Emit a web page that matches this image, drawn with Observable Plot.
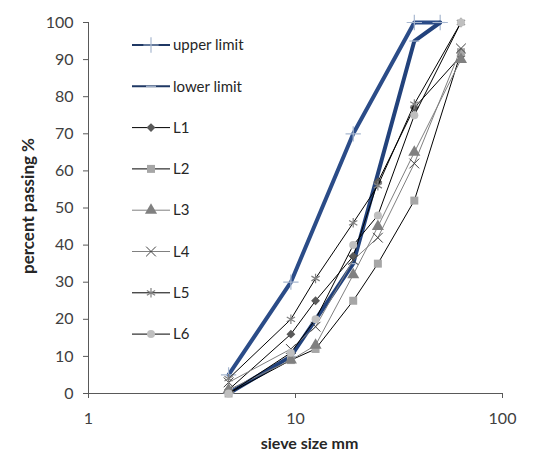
<!DOCTYPE html>
<html><head><meta charset="utf-8">
<script src="https://cdn.jsdelivr.net/npm/d3@7"></script>
<script src="https://cdn.jsdelivr.net/npm/@observablehq/plot@0.6"></script>
<style>
body{margin:0;background:#fff;}
#chart{position:relative;width:544px;height:465px;}
</style>
</head><body><div id="chart"></div>
<script>
// ---- data ----
const limitSieves = [4.75, 9.5, 19, 37.5, 50];
const upperLimit  = [5, 30, 70, 100, 100];
const lowerLimit  = [0, 10, 35, 95, 100];

const sieves = [4.75, 9.5, 12.5, 19, 25, 37.5, 63];
const L1 = [1, 16, 25, 37, 57, 77, 91];
const L2 = [0, 9, 12, 25, 35, 52, 92];
const L3 = [1, 9, 13, 32, 45, 65, 90];
const L4 = [3, 12, 18, 36, 42, 62, 93];
const L5 = [4, 20, 31, 46, 56, 78, 100];
const L6 = [0, 11, 20, 40, 48, 75, 100];

const seriesNames = ["upper limit", "lower limit", "L1", "L2", "L3", "L4", "L5", "L6"];
const xTicks = [1, 10, 100];
const yTicks = [0, 10, 20, 30, 40, 50, 60, 70, 80, 90, 100];
const xLabel = "sieve size mm";
const yLabel = "percent passing %";

// ---- styles ----
const dash = {draw(ctx, size){ const r = Math.sqrt(size / Math.PI); ctx.moveTo(-r, 0); ctx.lineTo(r, 0); }};
const styles = {
  "upper limit": {stroke:"#2B4C88", sw:4, symbol:d3.symbolPlus, r:5, fill:"none", mstroke:"#A8B8D0", msw:1.2},
  "lower limit": {stroke:"#22427C", sw:4, symbol:dash, r:5, fill:"none", mstroke:"#A8B8D0", msw:1.2},
  "L1": {stroke:"#000", sw:1, symbol:d3.symbolDiamond2, r:4, fill:"#595959", mstroke:"none", msw:0},
  "L2": {stroke:"#000", sw:1, symbol:d3.symbolSquare, r:4.5, fill:"#A6A6A6", mstroke:"none", msw:0},
  "L3": {stroke:"#808080", sw:1, symbol:d3.symbolTriangle, r:4.5, fill:"#808080", mstroke:"none", msw:0},
  "L4": {stroke:"#808080", sw:1, symbol:d3.symbolTimes, r:4.5, fill:"none", mstroke:"#404040", msw:1},
  "L5": {stroke:"#000", sw:1, symbol:d3.symbolAsterisk, r:4.5, fill:"none", mstroke:"#808080", msw:1.2},
  "L6": {stroke:"#000", sw:1, symbol:d3.symbolCircle, r:4, fill:"#BFBFBF", mstroke:"none", msw:0}
};

function rows(name, xs, ys){ return xs.map((x,i)=>({name, size:x, pass:ys[i]})); }
const data = {
  "upper limit": rows("upper limit", limitSieves, upperLimit),
  "lower limit": rows("lower limit", limitSieves, lowerLimit),
  "L1": rows("L1", sieves, L1), "L2": rows("L2", sieves, L2), "L3": rows("L3", sieves, L3),
  "L4": rows("L4", sieves, L4), "L5": rows("L5", sieves, L5), "L6": rows("L6", sieves, L6)
};

const marks = [];
for (const n of seriesNames) {
  const s = styles[n];
  marks.push(Plot.line(data[n], {x:"size", y:"pass", stroke:s.stroke, strokeWidth:s.sw}));
  marks.push(Plot.dot(data[n], {x:"size", y:"pass", symbol:s.symbol, r:s.r, fill:s.fill, stroke:s.mstroke, strokeWidth:s.msw}));
}

const plot = Plot.plot({
  width:544, height:465,
  marginLeft:88, marginRight:42, marginTop:22, marginBottom:72,
  style:{fontFamily:"Lato, sans-serif", fontSize:"16px", color:"#404040", background:"#fff"},
  x:{type:"log", domain:[1,100]},
  y:{domain:[0,100]},
  marks:[
    Plot.axisX({ticks:xTicks, tickFormat:d=>String(d), tickSize:5, tickPadding:14, label:null, stroke:"#595959"}),
    Plot.axisY({ticks:yTicks, tickSize:5, tickPadding:10, label:null, stroke:"#595959"}),
    Plot.ruleX([1], {stroke:"#595959"}),
    Plot.ruleY([0], {stroke:"#595959"}),
    ...marks,
    Plot.text([xLabel], {frameAnchor:"bottom", textAnchor:"middle", dx:14, dy:55, fontWeight:"bold", fill:"#262626", fontSize:16}),
    Plot.text([yLabel], {frameAnchor:"left", textAnchor:"middle", dx:-60, dy:-2, rotate:-90, fontWeight:"bold", fill:"#262626", fontSize:17})
  ]
});
document.getElementById("chart").appendChild(plot);

// ---- legend (inside plot area, top-left) ----
const svg = d3.select(plot);
const lg = svg.append("g").attr("font-family","Lato, sans-serif").attr("font-size","15px").attr("text-anchor","start");
const lx1 = 132, lx2 = 170, ltx = 173, ly0 = 45, lstep = 41.3;
seriesNames.forEach((n,i)=>{
  const s = styles[n], y = ly0 + i*lstep;
  const g = lg.append("g");
  g.append("line").attr("x1",lx1).attr("x2",lx2).attr("y1",y).attr("y2",y)
    .attr("stroke", i<2 ? "#1F3864" : s.stroke).attr("stroke-width", i<2 ? 2 : 1);
  g.append("path").attr("transform",`translate(${(lx1+lx2)/2},${y})`)
    .attr("d", d3.symbol(s.symbol, Math.PI*s.r*s.r)())
    .attr("fill", s.fill).attr("stroke", s.mstroke).attr("stroke-width", s.msw);
  g.append("text").attr("x",ltx).attr("y",y).attr("dy","0.35em").attr("text-anchor","start").attr("fill","#262626").text(n);
});
</script>
</body></html>
